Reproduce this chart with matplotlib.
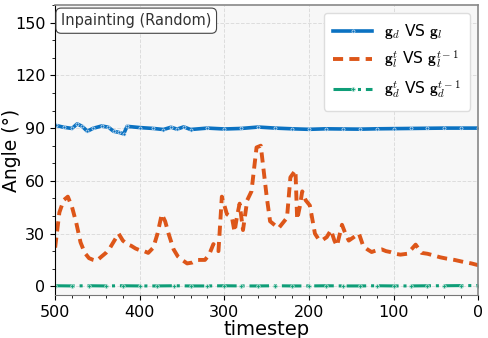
import numpy as np
import matplotlib.pyplot as plt
from matplotlib.ticker import MultipleLocator

plt.rcParams['mathtext.fontset'] = 'cm'

# g_d vs g_l
blue_t = [499, 490, 480, 474, 468, 462, 455, 445, 437, 431, 425, 419, 415, 400, 384, 372, 363,
          356, 348, 340, 320, 300, 280, 260, 240, 220, 200, 180, 160, 140, 120, 100, 80, 60, 40, 20, 0]
blue_v = [91.5, 90.5, 89.8, 92.4, 91.0, 88.2, 89.9, 91.2, 90.5, 88.2, 87.6, 86.7, 91.0, 90.3, 89.8,
          89.2, 90.5, 89.4, 90.7, 89.2, 90.0, 89.5, 89.8, 90.6, 90.0, 89.6, 89.3, 89.6, 89.5, 89.4,
          89.6, 89.7, 89.8, 89.9, 90.0, 90.0, 90.0]

# g_l^t vs g_l^{t-1}
orange_t = [500, 495, 490, 485, 480, 475, 470, 465, 460, 455, 451, 445, 440, 435, 430, 425, 420,
            415, 410, 405, 400, 395, 390, 384, 379, 374, 370, 366, 360, 355, 350, 344, 338, 332,
            327, 323, 318, 313, 310, 307, 303, 297, 291, 288, 285, 282, 278, 273, 268, 262, 257,
            250, 246, 241, 236, 231, 226, 222, 216, 214, 211, 208, 204, 199, 193, 189, 185, 179,
            174, 170, 167, 161, 157, 153, 147, 141, 136, 131, 126, 120, 114, 109, 104, 98, 92,
            84, 79, 74, 67, 60, 53, 45, 37, 28, 17, 8, 0]
orange_v = [22, 42, 49, 51, 45, 36, 25, 19, 16, 15, 14.5, 17, 19, 22, 26, 30, 26,
            24, 23, 21.5, 20.5, 20, 19, 22, 30, 41, 37, 30, 21, 17, 15, 13, 13.5, 15,
            15, 15, 18, 24, 22, 20, 51, 41, 39, 31, 40, 47, 32, 49, 54, 79, 80,
            51, 37, 35, 33, 36, 39, 62, 66, 38, 45, 54, 49, 46, 30, 27, 26, 28,
            32, 26, 23, 35, 30, 26, 28, 30, 23, 21, 19.5, 20.5, 21, 20, 19.5, 18.5, 18,
            18.5, 21, 23.7, 19, 18.5, 17.6, 16.5, 15.7, 15, 13.8, 13, 12]

# g_d^t vs g_d^{t-1}
green_t = [500, 480, 460, 440, 420, 400, 380, 360, 340, 320, 300, 280, 260, 240, 220, 200,
           180, 160, 140, 120, 100, 80, 60, 40, 20, 0]
green_v = [0.3, 0.2, 0.3, 0.2, 0.3, 0.2, 0.2, 0.3, 0.2, 0.2, 0.3, 0.2, 0.2, 0.3, 0.2, 0.2,
           0.3, 0.2, 0.2, 0.3, 0.2, 0.2, 0.3, 0.3, 0.4, 0.4]

c_blue = '#0b72c2'
c_orange = '#dd5619'
c_green = '#0f9e78'

fig = plt.figure(figsize=(4.88, 3.38), dpi=100)
ax = fig.add_axes([0.113, 0.127, 0.867, 0.858])
ax.set_facecolor('#f7f7f7')

ax.plot(blue_t, blue_v, '-', color=c_blue, lw=2.6, marker='o', ms=2.2, mec='#cfe3f3', mew=0.5,
        label=r'$\mathbf{g}_d$ VS $\mathbf{g}_l$')
ax.plot(orange_t, orange_v, '--', color=c_orange, lw=2.8, dashes=(2.6, 1.6),
        label=r'$\mathbf{g}_l^t$ VS $\mathbf{g}_l^{t-1}$')
ax.plot(green_t, green_v, '-.', color=c_green, lw=2.2, marker='P', ms=3, mec='#bfe6da', mew=0.4,
        label=r'$\mathbf{g}_d^t$ VS $\mathbf{g}_d^{t-1}$')

ax.set_xlim(500, 0)
ax.set_ylim(-5, 160)
ax.xaxis.set_major_locator(MultipleLocator(100))
ax.xaxis.set_minor_locator(MultipleLocator(20))
ax.yaxis.set_major_locator(MultipleLocator(30))
ax.yaxis.set_minor_locator(MultipleLocator(10))
ax.tick_params(labelsize=11.5)
ax.grid(True, which='major', ls='--', color='#dddddd', lw=0.7)

for s in ['top', 'right']:
    ax.spines[s].set_color('#888888')
    ax.spines[s].set_linewidth(1.2)
ax.spines['bottom'].set_color('#777777')
ax.spines['left'].set_color('black')

ax.set_xlabel('timestep', fontsize=14, labelpad=0)
ax.set_ylabel('Angle (°)', fontsize=13.5)
ax.yaxis.set_label_coords(-0.08, 0.5)

ax.text(0.014, 0.972, 'Inpainting (Random)', transform=ax.transAxes, fontsize=10.5,
        va='top', ha='left', color='#333333',
        bbox=dict(boxstyle='round,pad=0.35', fc='white', ec='#444444', lw=0.8))

leg = ax.legend(loc='upper right', fontsize=11.2, handlelength=2.5, borderpad=0.6,
                labelspacing=0.5, framealpha=1.0, bbox_to_anchor=(1.0, 1.0))
leg.get_frame().set_edgecolor('#dddddd')

fig.savefig('out.png', dpi=100)
